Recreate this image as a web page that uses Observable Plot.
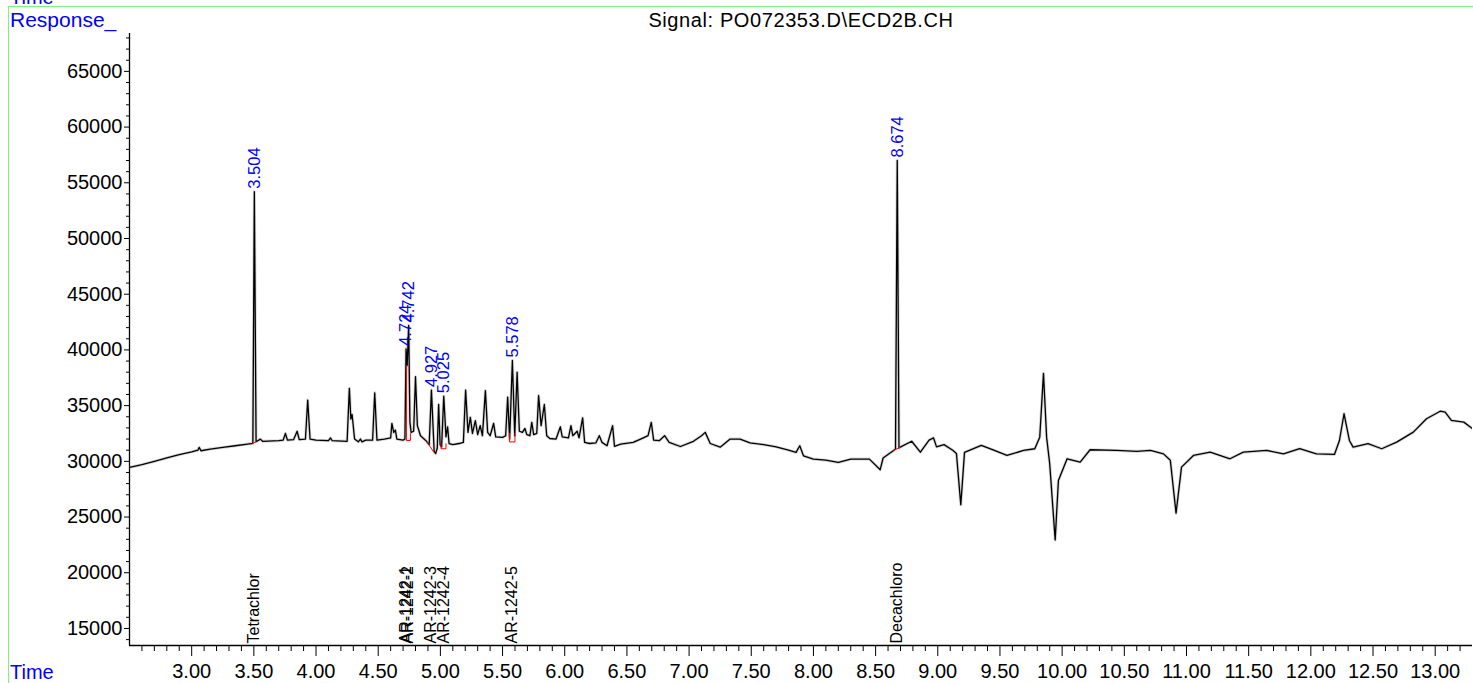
<!DOCTYPE html>
<html><head><meta charset="utf-8">
<script src="https://cdn.jsdelivr.net/npm/d3@7"></script>
<script src="https://cdn.jsdelivr.net/npm/@observablehq/plot@0.6"></script>
<style>
html,body{margin:0;padding:0;background:#fff;overflow:hidden}
#wrap{position:relative;width:1473px;height:683px;overflow:hidden;font-family:"Liberation Sans",Arial,sans-serif}
.lbl{position:absolute;white-space:nowrap;line-height:1}
#chart{position:absolute;left:0;top:0}
</style></head><body>
<div id="wrap">
  <div id="chart"></div>
  <div style="position:absolute;left:8px;top:6px;width:1465px;height:1px;background:#80f080"></div>
  <div style="position:absolute;left:8px;top:6px;width:1px;height:677px;background:#80f080"></div>
  <div class="lbl" style="left:10px;top:-13px;font-size:20px;color:#0000ff">Time</div>
  <div class="lbl" style="left:10px;top:9px;font-size:21px;color:#0000ff">Response_</div>
  <div class="lbl" style="left:10px;top:662px;font-size:20px;color:#0000ff">Time</div>
  <div class="lbl" style="left:0;width:1602px;text-align:center;top:10px;font-size:20px;letter-spacing:0.6px;color:#000">Signal: PO072353.D\ECD2B.CH</div>
</div>
<script>
// ---- data ----
const trace = [
  [2.50,29450],[2.60,29700],[2.70,30000],[2.80,30300],[2.90,30600],[3.00,30850],[3.05,31000],[3.06,31250],[3.075,30950],
  [3.15,31100],[3.25,31250],[3.35,31400],[3.45,31550],[3.492,31620],[3.504,54200],[3.518,31760],[3.553,31990],[3.57,31800],
  [3.70,31850],[3.735,31900],[3.754,32500],[3.77,31900],[3.82,31950],[3.848,32700],[3.865,31950],[3.915,32000],[3.933,35500],
  [3.952,32000],[4.00,31900],[4.10,31850],[4.116,32100],[4.13,31850],[4.25,31800],[4.268,36550],[4.28,33800],[4.29,34200],
  [4.31,32000],[4.34,31750],[4.357,32000],[4.37,31750],[4.40,31900],[4.455,31900],[4.472,36150],[4.49,31900],[4.55,32000],
  [4.60,32100],[4.61,33400],[4.625,32600],[4.638,32800],[4.65,32000],[4.70,31900],[4.715,32000],[4.724,40100],[4.733,38600],
  [4.745,42200],[4.755,33500],[4.765,32600],[4.785,32700],[4.80,37600],[4.815,33200],[4.84,32300],[4.88,31900],[4.91,31500],
  [4.928,36400],[4.95,30900],[4.962,30700],[4.975,31200],[4.986,35100],[4.998,31500],[5.01,31300],[5.027,35850],[5.045,32200],
  [5.058,33100],[5.07,31600],[5.10,31500],[5.15,31600],[5.185,31700],[5.203,36400],[5.222,32600],[5.241,33950],[5.258,32500],
  [5.281,33650],[5.30,32400],[5.32,33200],[5.338,32300],[5.362,36350],[5.38,32600],[5.40,32300],[5.428,33400],[5.445,32200],
  [5.50,32150],[5.525,32300],[5.541,35750],[5.557,32000],[5.579,39050],[5.598,32300],[5.617,38000],[5.635,32700],[5.66,32600],
  [5.68,32950],[5.695,32400],[5.72,32300],[5.735,33500],[5.75,32400],[5.775,32500],[5.79,35900],[5.81,33200],[5.836,35100],
  [5.855,32300],[5.88,32050],[5.93,32000],[5.965,33100],[5.98,32200],[6.03,32100],[6.05,33200],[6.065,32300],[6.10,32700],
  [6.115,32100],[6.144,33900],[6.16,31700],[6.20,31600],[6.25,31650],[6.278,32300],[6.30,31700],[6.34,31400],[6.385,33200],
  [6.40,31350],[6.45,31550],[6.55,31700],[6.61,32000],[6.67,32300],[6.696,33500],[6.715,31900],[6.76,31850],[6.803,32300],
  [6.84,31700],[6.93,31330],[7.035,31800],[7.10,32300],[7.13,32600],[7.17,31600],[7.25,31270],[7.33,32000],[7.41,32000],
  [7.49,31650],[7.60,31500],[7.70,31300],[7.80,31000],[7.86,30800],[7.89,31400],[7.92,30500],[8.00,30200],[8.10,30100],
  [8.20,29900],[8.30,30200],[8.45,30200],[8.537,29250],[8.56,30300],[8.645,30980],[8.660,31100],[8.674,57000],[8.688,31200],
  [8.698,31270],[8.79,31800],[8.86,30820],[8.93,31900],[8.966,32100],[8.99,31300],[9.05,31500],[9.12,31000],[9.15,30700],
  [9.185,26100],[9.215,30800],[9.35,31430],[9.45,31000],[9.556,30530],[9.69,30980],[9.78,31130],[9.82,32170],[9.85,37900],
  [9.875,32170],[9.90,29780],[9.944,22950],[9.97,28280],[10.04,30230],[10.145,29930],[10.225,31040],[10.44,30980],[10.60,30900],
  [10.71,30980],[10.815,30670],[10.87,30100],[10.916,25350],[10.96,29480],[11.056,30530],[11.19,30820],[11.35,30230],
  [11.457,30820],[11.645,30980],[11.78,30670],[11.91,31130],[12.045,30670],[12.19,30620],[12.23,31870],[12.267,34270],
  [12.31,31870],[12.34,31270],[12.46,31580],[12.57,31130],[12.69,31720],[12.824,32620],[12.93,33820],[13.04,34500],
  [13.08,34420],[13.13,33670],[13.23,33520],[13.30,32930]
];

const peakTimes   = [3.504, 4.724, 4.742, 4.927, 5.025, 5.578, 8.674];
const peakHeights = [54200, 40100, 42200, 36400, 35850, 39050, 57000];
const peakLabels  = ["3.504", "4.724", "4.742", "4.927", "5.025", "5.578", "8.674"];

const compoundTimes = [3.504, 4.724, 4.742, 4.927, 5.025, 5.578, 8.674];
const compoundNames = ["Tetrachlor", "AR-1242-1", "AR-1242-2", "AR-1242-3", "AR-1242-4", "AR-1242-5", "Decachloro"];

const integrationBaselines = [
  [[3.490, 31620], [3.518, 31760]],
  [[4.727, 38600], [4.727, 31870], [4.759, 31870], [4.759, 32500]],
  [[4.893, 31740], [4.947, 30820]],
  [[5.005, 31580], [5.005, 31130], [5.045, 31130], [5.045, 31580]],
  [[5.555, 32500], [5.555, 31740], [5.600, 31740], [5.600, 32500]],
  [[8.645, 30980], [8.698, 31270]]
];

const xDomain = [2.5, 13.3];
const yDomain = [13470, 68400];
const xMajorTicks = [3.0, 3.5, 4.0, 4.5, 5.0, 5.5, 6.0, 6.5, 7.0, 7.5, 8.0, 8.5, 9.0, 9.5, 10.0, 10.5, 11.0, 11.5, 12.0, 12.5, 13.0];
const yMajorTicks = [15000, 20000, 25000, 30000, 35000, 40000, 45000, 50000, 55000, 60000, 65000];

// ---- build ----
const xMinorTicks = d3.range(26, 133).map(i => i / 10).filter(v => Math.abs(v * 2 - Math.round(v * 2)) > 1e-6);
const yMinorTicks = d3.range(14, 69).map(i => i * 1000).filter(v => v % 5000 !== 0);
const redRows = integrationBaselines.flatMap((seg, k) => seg.map(p => ({k, t: p[0], v: p[1]})));
const peaks = peakTimes.map((t, i) => ({t, v: peakHeights[i], s: peakLabels[i]}));
const comps = compoundTimes.map((t, i) => ({t, s: compoundNames[i]}));

const chart = Plot.plot({
  width: 1473,
  height: 683,
  marginLeft: 129,
  marginRight: 1,
  marginTop: 33,
  marginBottom: 38,
  style: {fontFamily: "'Liberation Sans', Arial, sans-serif", background: "transparent", overflow: "visible"},
  x: {domain: xDomain},
  y: {domain: yDomain},
  marks: [
    Plot.axisX({ticks: xMinorTicks, tickSize: 6, tickFormat: () => "", label: null, stroke: "#000"}),
    Plot.axisX({ticks: xMajorTicks, tickSize: 11, tickPadding: 7, tickFormat: d3.format(".2f"), fontSize: 20, label: null, stroke: "#000", fill: "#000"}),
    Plot.axisY({ticks: yMinorTicks, tickSize: 3, tickFormat: () => "", label: null, stroke: "#000"}),
    Plot.axisY({ticks: yMajorTicks, tickSize: 5, tickPadding: 2, tickFormat: d => String(d), fontSize: 20, label: null, stroke: "#000", fill: "#000"}),
    Plot.ruleX([xDomain[0]], {stroke: "#000", strokeWidth: 1.3}),
    Plot.ruleY([yDomain[0]], {stroke: "#000", strokeWidth: 1.3}),
    Plot.line(trace, {x: d => d[0], y: d => d[1], stroke: "#888", strokeWidth: 3, strokeOpacity: 0.35, clip: true}),
    Plot.line(trace, {x: d => d[0], y: d => d[1], stroke: "#000", strokeWidth: 1.3, clip: true}),
    Plot.line(redRows, {x: "t", y: "v", z: "k", stroke: "#ff0000", strokeWidth: 1}),
    Plot.text(peaks, {x: "t", y: "v", text: "s", rotate: -90, textAnchor: "start", dy: -3, fill: "#0000ff", fontSize: 16.5}),
    Plot.text(comps, {x: "t", y: () => yDomain[0], text: "s", rotate: -90, textAnchor: "start", dy: -2, fill: "#000", fontSize: 16})
  ]
});
document.getElementById("chart").appendChild(chart);
</script>
</body></html>
